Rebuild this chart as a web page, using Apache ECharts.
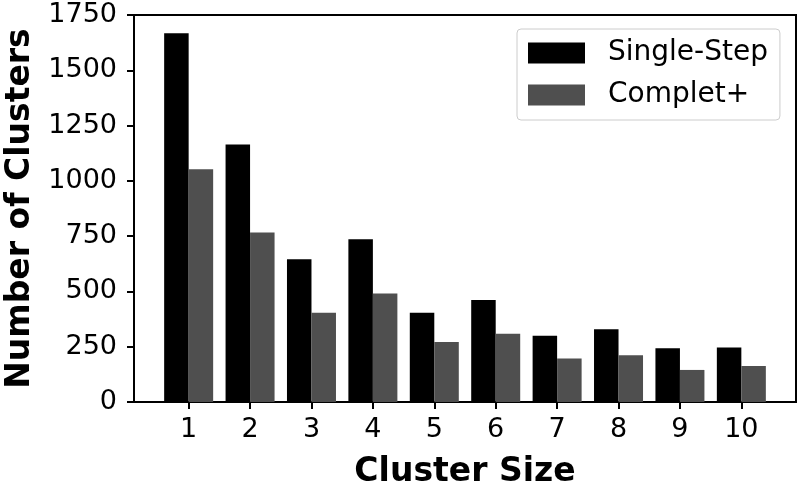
<!DOCTYPE html>
<html>
<head>
<meta charset="utf-8">
<script src="https://cdn.jsdelivr.net/npm/echarts@6/dist/echarts.min.js"></script>
<style>
  html, body { margin: 0; padding: 0; background: #fff; }
  #chart { width: 800px; height: 486px; }
</style>
</head>
<body>
<div id="chart"></div>
<script>
// 数据
var clusterSizes = [1, 2, 3, 4, 5, 6, 7, 8, 9, 10];
var singleStep = [1667, 1164, 645, 736, 404, 461, 300, 329, 243, 246];
var completPlus = [1052, 766, 404, 491, 271, 309, 197, 211, 145, 163];
var yTicks = [0, 250, 500, 750, 1000, 1250, 1500, 1750];

function toPoints (xs, ys) {
	var pts = [];
	for (var i = 0; i < xs.length; i++) {
		pts.push([xs[i], ys[i]]);
	}
	return pts;
}

var myChart = echarts.init(document.getElementById('chart'));
var font = 'DejaVu Sans';

var option = {
	animation: false,
	grid: {
		left: 134,
		right: 4,
		top: 15,
		bottom: 84,
		outerBoundsMode: 'none',	//不要自动缩小绘图区
		show: true,
		borderColor: '#000',
		borderWidth: 2,
		backgroundColor: 'transparent'
	},
	legend: {
		orient: 'vertical',
		left: 517,
		top: 29,
		padding: [10, 12, 11, 11],
		itemWidth: 57,
		itemHeight: 21,
		itemGap: 14,
		borderColor: '#cccccc',
		borderWidth: 1,
		borderRadius: 4,
		backgroundColor: 'rgba(255,255,255,0.8)',
		icon: 'rect',
		textStyle: { fontFamily: font, fontSize: 28, color: '#000', padding: [0, 0, 0, 18] },
		data: ['Single-Step', 'Complet+']
	},
	xAxis: {
		type: 'value',
		min: 0.11,
		max: 10.89,
		name: 'Cluster Size',
		nameLocation: 'middle',
		nameGap: 54,
		nameTextStyle: { fontFamily: font, fontSize: 33, fontWeight: 'bold', color: '#000' },
		splitLine: { show: false },
		axisLine: { show: true, lineStyle: { color: '#000', width: 2 } },
		axisTick: { show: true, length: 7, lineStyle: { color: '#000', width: 2 }, customValues: clusterSizes },
		axisLabel: { fontFamily: font, fontSize: 27, color: '#000', margin: 14, customValues: clusterSizes }
	},
	yAxis: {
		type: 'value',
		min: 0,
		max: 1750,
		interval: 250,
		name: 'Number of Clusters',
		nameLocation: 'middle',
		nameRotate: 90,
		nameGap: 97,
		nameTextStyle: { fontFamily: font, fontSize: 33, fontWeight: 'bold', color: '#000' },
		splitLine: { show: false },
		axisLine: { show: true, lineStyle: { color: '#000', width: 2 } },
		axisTick: { show: true, length: 7, lineStyle: { color: '#000', width: 2 }, customValues: yTicks },
		axisLabel: {
			fontFamily: font, fontSize: 27, color: '#000', margin: 17, customValues: yTicks,
			formatter: function (v) { return String(v); }
		}
	},
	series: [
		{
			name: 'Single-Step',
			type: 'bar',
			barWidth: 24.5,
			barGap: '0%',
			itemStyle: { color: '#000000' },
			data: toPoints(clusterSizes, singleStep)
		},
		{
			name: 'Complet+',
			type: 'bar',
			barWidth: 24.5,
			barGap: '0%',
			itemStyle: { color: '#4f4f4f' },
			data: toPoints(clusterSizes, completPlus)
		}
	]
};
myChart.setOption(option);
</script>
</body>
</html>
